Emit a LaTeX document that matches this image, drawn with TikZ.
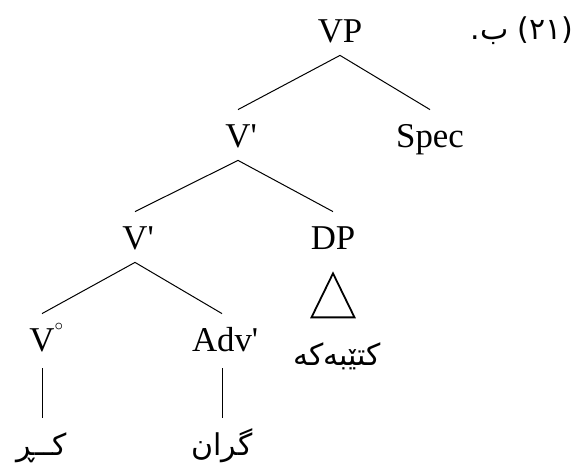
\documentclass[tikz,border=0pt]{standalone}
\usepackage{fontspec}
\setmainfont{Liberation Serif}
\newfontfamily\arabicfont[Script=Arabic]{DejaVu Sans}
\TeXXeTstate=1
\usetikzlibrary{positioning}
\tikzset{
        cat/.style={anchor=base, inner sep=0pt, font=\fontsize{17.4}{20}\selectfont, text height=19pt, text depth=6pt}, % category labels
        word/.style={anchor=base, inner sep=0pt, font=\arabicfont\fontsize{15}{18}\selectfont, text height=18.5pt, text depth=0pt}, % Kurdish words
        branch/.style={line width=0.5pt},
}
\newcommand{\zerobar}{\rlap{\raisebox{10.5pt}{\fontsize{8}{8}\selectfont$\circ$}}}
\begin{document}
\begin{tikzpicture}[x=0.5pt,y=-0.5pt]
\useasboundingbox (0,0) rectangle (577,469);

\node[cat] (VP) at (340,43) {VP};
\node[cat] (Vbar) at (238,148) {V\rlap{\textquotesingle}};
\node[cat] (Spec) at (430,148) {Spec};
\node[cat] (Vbarb) at (135,250) {V\rlap{\textquotesingle}};
\node[cat] (DP) at (333,250) {DP};
\node[cat] (Vo) at (42,352) {V\zerobar};
\node[cat] (Adv) at (222,352) {Adv\rlap{\textquotesingle}};

\node[word] (kar) at (42,455) {\beginR کــڕ\endR};
\node[word] (giran) at (222,455) {\beginR گران\endR};
\node[word] (ktebeke) at (337,365) {\beginR کتێبەکە\endR};
\node[word] (exnum) at (522,40) {\beginR(\beginL ٢١\endL) ب.\endR};

\draw[branch] (VP.south) -- (Vbar.north);
\draw[branch] (VP.south) -- (Spec.north);
\draw[branch] (Vbar.south) -- (Vbarb.north);
\draw[branch] (Vbar.south) -- (DP.north);
\draw[branch] (Vbarb.south) -- (Vo.north);
\draw[branch] (Vbarb.south) -- (Adv.north);
\draw[branch,shorten <=2pt] (Vo.south) -- (kar.north);
\draw[branch,shorten <=2pt] (Adv.south) -- (giran.north);

% triangle under DP
\draw[line width=0.9pt] ([yshift=-5.5pt]DP.south) -- ++(-21.5,44) -- ++(43,0) -- cycle;

\end{tikzpicture}
\end{document}
